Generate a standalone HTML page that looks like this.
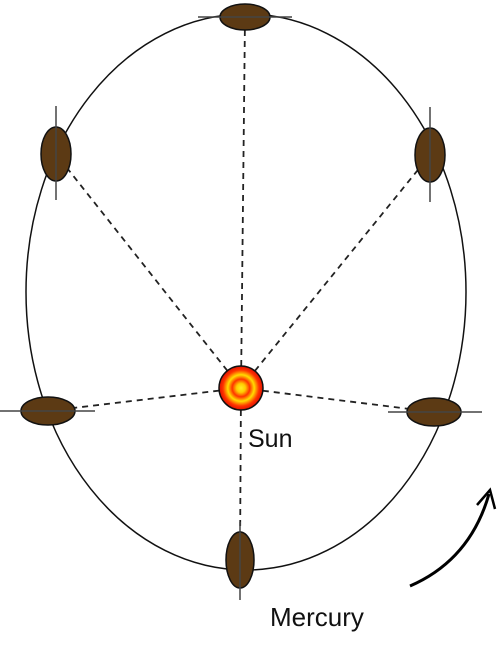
<!DOCTYPE html>
<html><head><style>body{margin:0;background:#fff}svg{display:block}</style></head><body>
<svg width="500" height="648" viewBox="0 0 500 648">
<defs><radialGradient id="sg" cx="50%" cy="50%" r="50%">
<stop offset="0" stop-color="#ffee22"/><stop offset="0.2" stop-color="#ffcc00"/><stop offset="0.4" stop-color="#ff3300"/><stop offset="0.6" stop-color="#ffdd00"/><stop offset="0.82" stop-color="#ff3300"/><stop offset="1" stop-color="#e01000"/></radialGradient></defs>
<ellipse cx="246" cy="292" rx="220" ry="278" fill="none" stroke="#111" stroke-width="1.5"/>
<g stroke="#222" stroke-width="1.8" stroke-dasharray="6,5">
<line x1="241" y1="388" x2="245" y2="17"/><line x1="241" y1="388" x2="56" y2="154"/><line x1="241" y1="388" x2="430" y2="155"/>
<line x1="241" y1="388" x2="48" y2="411"/><line x1="241" y1="388" x2="434" y2="412"/><line x1="241" y1="388" x2="240" y2="560"/>
</g>
<g fill="#5c3a14" stroke="#111" stroke-width="1.5">
<g><ellipse cx="245" cy="17" rx="25" ry="13"/><line x1="198" y1="17" x2="292" y2="17" stroke="#444"/></g>
<g><ellipse cx="56" cy="154" rx="15" ry="27"/><line x1="56" y1="106" x2="56" y2="200" stroke="#444"/></g>
<g><ellipse cx="430" cy="155" rx="15" ry="27"/><line x1="430" y1="107" x2="430" y2="202" stroke="#444"/></g>
<g><ellipse cx="48" cy="411" rx="27" ry="14"/><line x1="0" y1="411" x2="95" y2="411" stroke="#444"/></g>
<g><ellipse cx="434" cy="412" rx="27" ry="14"/><line x1="388" y1="412" x2="482" y2="412" stroke="#444"/></g>
<g><ellipse cx="240" cy="560" rx="14" ry="28"/><line x1="240" y1="522" x2="240" y2="600" stroke="#444"/></g>
</g>
<circle cx="241" cy="388" r="22" fill="url(#sg)" stroke="#111" stroke-width="1.5"/>
<text x="248" y="447" font-family="Liberation Sans, sans-serif" font-size="25" fill="#111">Sun</text>
<text x="270" y="626" font-family="Liberation Sans, sans-serif" font-size="26" fill="#111">Mercury</text>
<g fill="none" stroke="#000" stroke-width="3">
<path d="M410 586 Q470 560 489 494"/><path d="M477 505 L490 490 L495 509" stroke-width="2.5"/>
</g>
</svg>
</body></html>
